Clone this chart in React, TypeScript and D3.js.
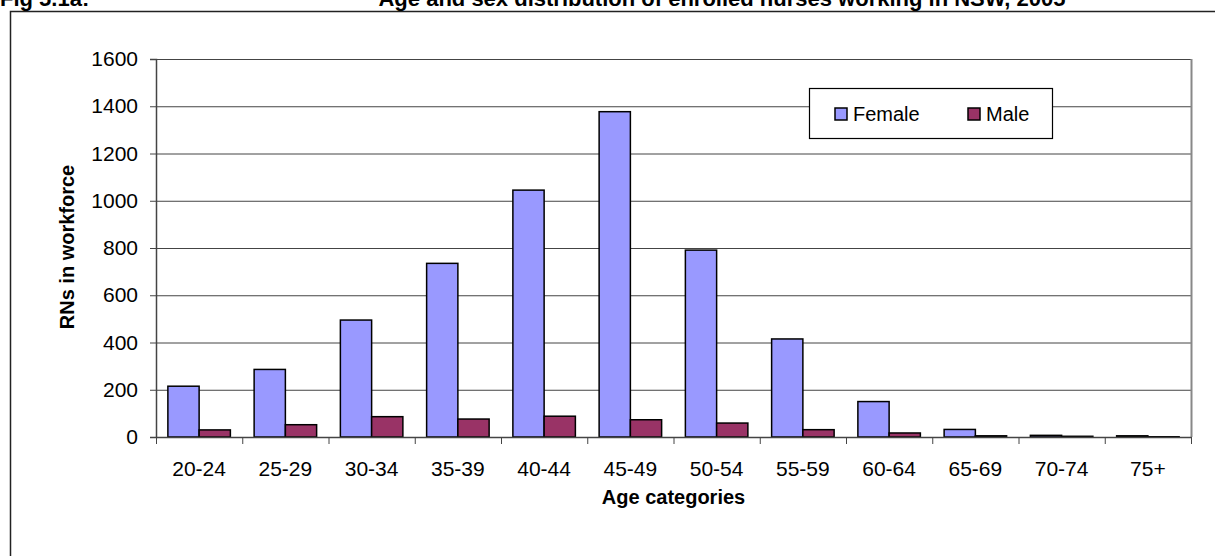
import { useEffect, useRef } from 'react';
import * as d3 from 'd3';

// Age and sex distribution of enrolled nurses working in NSW
const categories = ['20-24', '25-29', '30-34', '35-39', '40-44', '45-49', '50-54', '55-59', '60-64', '65-69', '70-74', '75+'];
const female = [215, 286, 495, 735, 1045, 1377, 791, 415, 150, 32, 7, 5];
const male = [30, 52, 86, 76, 88, 73, 59, 31, 17, 5, 3, 1];
const yTicks = [0, 200, 400, 600, 800, 1000, 1200, 1400, 1600];

const series = [
  { name: 'Female', values: female, color: '#9999FF' },
  { name: 'Male', values: male, color: '#993366' },
];

const W = 1215;
const H = 556;
const FONT = 'Arial, "Liberation Sans", sans-serif';

export default function App() {
  const svgRef = useRef<SVGSVGElement>(null);

  useEffect(() => {
    if (!svgRef.current) return;
    const svg = d3.select(svgRef.current);
    svg.selectAll('*').remove();

    const plot = { left: 156, right: 1191, top: 59, bottom: 437 };

    const x = d3
      .scaleBand<string>()
      .domain(categories)
      .range([plot.left, plot.right]);

    const inner = d3
      .scaleBand<string>()
      .domain(series.map((s) => s.name))
      .range([0, x.bandwidth()])
      .paddingOuter(0.38)
      .paddingInner(0);

    const y = d3.scaleLinear().domain([0, 1600]).range([plot.bottom, plot.top]);

    // Outer chart frame
    svg
      .append('rect')
      .attr('x', 10.5)
      .attr('y', 11.5)
      .attr('width', W + 20)
      .attr('height', H + 20)
      .attr('fill', 'white')
      .attr('stroke', '#222')
      .attr('stroke-width', 1.5);

    // Title (clipped at top of page)
    svg
      .append('text')
      .attr('x', 0)
      .attr('y', 6)
      .attr('font-family', FONT)
      .attr('font-size', 22)
      .attr('font-weight', 'bold')
      .text('Fig 5.1a:');

    svg
      .append('text')
      .attr('x', 722)
      .attr('y', 6)
      .attr('text-anchor', 'middle')
      .attr('font-family', FONT)
      .attr('font-size', 22)
      .attr('font-weight', 'bold')
      .text('Age and sex distribution of enrolled nurses working in NSW, 2005');

    // Gridlines
    svg
      .append('g')
      .selectAll('line')
      .data(yTicks.filter((t) => t > 0))
      .join('line')
      .attr('x1', plot.left)
      .attr('x2', plot.right)
      .attr('y1', (d) => y(d) + 0.5)
      .attr('y2', (d) => y(d) + 0.5)
      .attr('stroke', '#444')
      .attr('stroke-width', 1);

    // Plot area right border
    svg
      .append('line')
      .attr('x1', plot.right + 0.5)
      .attr('x2', plot.right + 0.5)
      .attr('y1', plot.top)
      .attr('y2', plot.bottom)
      .attr('stroke', '#888')
      .attr('stroke-width', 2);

    // Bars
    const groups = svg
      .append('g')
      .selectAll('g')
      .data(categories)
      .join('g')
      .attr('transform', (d) => `translate(${x(d)},0)`);

    groups
      .selectAll('rect')
      .data((_, i) => series.map((s) => ({ name: s.name, value: s.values[i], color: s.color })))
      .join('rect')
      .attr('x', (d) => inner(d.name)!)
      .attr('y', (d) => y(d.value))
      .attr('width', inner.bandwidth())
      .attr('height', (d) => plot.bottom - y(d.value))
      .attr('fill', (d) => d.color)
      .attr('stroke', '#000')
      .attr('stroke-width', 1.5);

    // Y axis
    const yAxis = svg
      .append('g')
      .attr('transform', `translate(${plot.left},0)`)
      .call(d3.axisLeft(y).tickValues(yTicks).tickSize(6).tickPadding(12).tickFormat(d3.format('d')));
    yAxis.select('.domain').attr('stroke', '#444').attr('stroke-width', 1.5);
    yAxis.selectAll('.tick line').attr('stroke', '#444');
    yAxis
      .selectAll('text')
      .attr('font-family', FONT)
      .attr('font-size', 21)
      .attr('fill', '#000');

    // X axis
    const xAxis = svg
      .append('g')
      .attr('transform', `translate(0,${plot.bottom})`)
      .call(d3.axisBottom(x).tickSize(0).tickPadding(24));
    xAxis.select('.domain').attr('stroke', '#444').attr('stroke-width', 1.5);
    xAxis
      .selectAll('text')
      .attr('font-family', FONT)
      .attr('font-size', 21)
      .attr('fill', '#000');

    // X tick marks at band boundaries
    const boundaries = categories.map((c) => x(c)!).concat([plot.right]);
    svg
      .append('g')
      .selectAll('line')
      .data(boundaries)
      .join('line')
      .attr('x1', (d) => d + 0.5)
      .attr('x2', (d) => d + 0.5)
      .attr('y1', plot.bottom)
      .attr('y2', plot.bottom + 7)
      .attr('stroke', '#444');

    // Axis titles
    svg
      .append('text')
      .attr('x', (plot.left + plot.right) / 2)
      .attr('y', 504)
      .attr('text-anchor', 'middle')
      .attr('font-family', FONT)
      .attr('font-size', 20)
      .attr('font-weight', 'bold')
      .text('Age categories');

    svg
      .append('text')
      .attr('transform', `translate(74,247) rotate(-90)`)
      .attr('text-anchor', 'middle')
      .attr('font-family', FONT)
      .attr('font-size', 20)
      .attr('font-weight', 'bold')
      .text('RNs in workforce');

    // Legend
    const legend = svg.append('g').attr('transform', 'translate(809,88)');
    legend
      .append('rect')
      .attr('x', 0.5)
      .attr('y', 0.5)
      .attr('width', 243)
      .attr('height', 50)
      .attr('fill', 'white')
      .attr('stroke', '#000')
      .attr('stroke-width', 1.2);

    const items = legend
      .selectAll('g.item')
      .data(series)
      .join('g')
      .attr('class', 'item')
      .attr('transform', (_, i) => `translate(${26 + i * 133},20)`);

    items
      .append('rect')
      .attr('width', 12)
      .attr('height', 12)
      .attr('fill', (d) => d.color)
      .attr('stroke', '#000')
      .attr('stroke-width', 1.5);

    items
      .append('text')
      .attr('x', 18)
      .attr('y', 13)
      .attr('font-family', FONT)
      .attr('font-size', 20)
      .text((d) => d.name);
  }, []);

  return (
    <svg
      ref={svgRef}
      width={W}
      height={H}
      style={{ position: 'absolute', left: 0, top: 0, background: 'white' }}
    />
  );
}
